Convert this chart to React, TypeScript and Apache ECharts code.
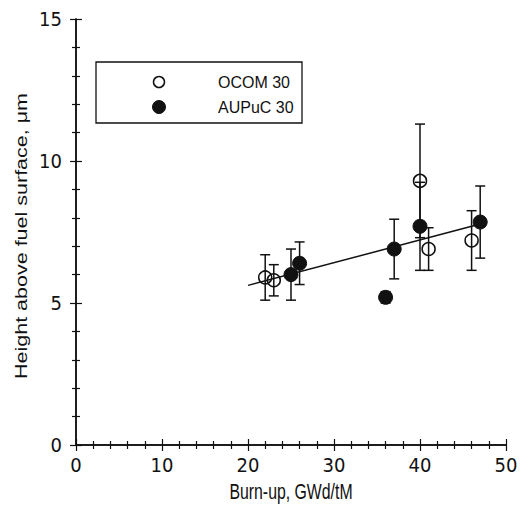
import React, { useEffect, useRef } from "react";
import * as echarts from "echarts";

const ocomX = [22, 23, 40, 41, 46];
const ocomY = [5.9, 5.8, 9.3, 6.9, 7.2];
const ocomErr = [0.8, 0.55, 2.0, 0.75, 1.05];

const aupucX = [25, 26, 36, 37, 40, 47];
const aupucY = [6.0, 6.4, 5.2, 6.9, 7.7, 7.85];
const aupucErr = [0.9, 0.75, 0.2, 1.05, 1.55, 1.27];

const fitX = [20, 47];
const fitY = [5.62, 7.78];

const xTicks = [0, 10, 20, 30, 40, 50];
const yTicks = [0, 5, 10, 15];

const NARROW = "'Liberation Sans Narrow', 'DejaVu Sans Condensed', 'Liberation Sans', sans-serif";
const REG = "'Liberation Sans', sans-serif";
const INK = "#111";

function errData(xs: number[], ys: number[], es: number[]) {
  return xs.map((x, i) => [x, ys[i] - es[i], ys[i] + es[i]]);
}

function errRender(params: any, api: any) {
  const x = api.value(0);
  const lo = api.coord([x, api.value(1)]);
  const hi = api.coord([x, api.value(2)]);
  const hw = 5;
  const st = { stroke: INK, lineWidth: 1.5 };
  return {
    type: "group",
    children: [
      { type: "line", shape: { x1: lo[0], y1: lo[1], x2: hi[0], y2: hi[1] }, style: st },
      { type: "line", shape: { x1: lo[0] - hw, y1: lo[1], x2: lo[0] + hw, y2: lo[1] }, style: st },
      { type: "line", shape: { x1: hi[0] - hw, y1: hi[1], x2: hi[0] + hw, y2: hi[1] }, style: st },
    ],
  };
}

export default function App() {
  const ref = useRef<HTMLDivElement>(null);
  useEffect(() => {
    if (!ref.current) return;
    const chart = echarts.init(ref.current, null, { renderer: "svg" });
    const axisCommon = {
      axisLine: { show: true, lineStyle: { color: INK, width: 1.5 } },
      axisTick: { show: true, inside: true, length: 6, lineStyle: { color: INK, width: 1.2 } },
      minorTick: { show: true, splitNumber: 5, length: 4, lineStyle: { color: INK, width: 1.2 } },
      splitLine: { show: false },
      minorSplitLine: { show: false },
    };
    chart.setOption({
      animation: false,
      backgroundColor: "#fff",
      grid: { left: 76, top: 19, right: 18, bottom: 67 },
      xAxis: [
        {
          type: "value", min: 0, max: 50, interval: 10, position: "bottom",
          ...axisCommon,
          axisLabel: { color: INK, fontFamily: NARROW, fontSize: 20, margin: 10,
            formatter: (v: number) => (xTicks.includes(v) ? String(v) : "") },
        },
        {
          type: "value", min: 0, max: 50, interval: 10, position: "top",
          ...axisCommon, axisLabel: { show: false },
        },
      ],
      yAxis: [
        {
          type: "value", min: 0, max: 15, interval: 5, position: "left",
          ...axisCommon,
          axisLabel: { color: INK, fontFamily: NARROW, fontSize: 20, margin: 14,
            formatter: (v: number) => (yTicks.includes(v) ? String(v) : "") },
        },
        {
          type: "value", min: 0, max: 15, interval: 5, position: "right",
          ...axisCommon, axisLabel: { show: false },
        },
      ],
      legend: { show: false },
      series: [
        {
          type: "line", name: "fit", data: fitX.map((x, i) => [x, fitY[i]]),
          showSymbol: false, symbol: "none", lineStyle: { color: INK, width: 1.5 }, z: 1,
        },
        {
          type: "custom", name: "ocomErr", data: errData(ocomX, ocomY, ocomErr),
          renderItem: errRender, z: 2,
        },
        {
          type: "custom", name: "aupucErr", data: errData(aupucX, aupucY, aupucErr),
          renderItem: errRender, z: 2,
        },
        {
          type: "scatter", name: "OCOM 30", data: ocomX.map((x, i) => [x, ocomY[i]]),
          symbol: "circle", symbolSize: 13,
          itemStyle: { color: "rgba(0,0,0,0)", borderColor: INK, borderWidth: 1.5, opacity: 1 }, z: 3,
        },
        {
          type: "scatter", name: "AUPuC 30", data: aupucX.map((x, i) => [x, aupucY[i]]),
          symbol: "circle", symbolSize: 14,
          itemStyle: { color: INK, borderColor: INK, borderWidth: 1, opacity: 1 }, z: 4,
        },
      ],
      graphic: [
        { type: "text", x: 21, y: 236, rotation: Math.PI / 2, scaleY: 0.75, z: 11,
          style: { text: "Height above fuel surface, \u03bcm", fill: INK, font: `21.5px ${REG}`,
            align: "center", verticalAlign: "middle" } },
        { type: "text", x: 291, y: 492, scaleX: 0.72, z: 11,
          style: { text: "Burn-up, GWd/tM", fill: INK, font: `22px ${REG}`,
            align: "center", verticalAlign: "middle" } },
        { type: "rect", shape: { x: 96, y: 62, width: 206, height: 61 },
          style: { fill: "#fff", stroke: INK, lineWidth: 1.3 }, z: 10 },
        { type: "circle", shape: { cx: 159, cy: 82, r: 5.5 },
          style: { fill: "#fff", stroke: INK, lineWidth: 1.5 }, z: 11 },
        { type: "circle", shape: { cx: 159, cy: 107, r: 6.5 },
          style: { fill: INK, stroke: INK, lineWidth: 1 }, z: 11 },
        { type: "text", x: 218, y: 82, z: 11,
          style: { text: "OCOM 30", fill: INK, font: `16px ${REG}`, verticalAlign: "middle" } },
        { type: "text", x: 218, y: 107, z: 11,
          style: { text: "AUPuC 30", fill: INK, font: `16px ${REG}`, verticalAlign: "middle" } },
      ],
    });
    return () => chart.dispose();
  }, []);
  return (
    <div
      ref={ref}
      style={{ position: "fixed", left: 0, top: 0, width: 524, height: 512 }}
    />
  );
}
